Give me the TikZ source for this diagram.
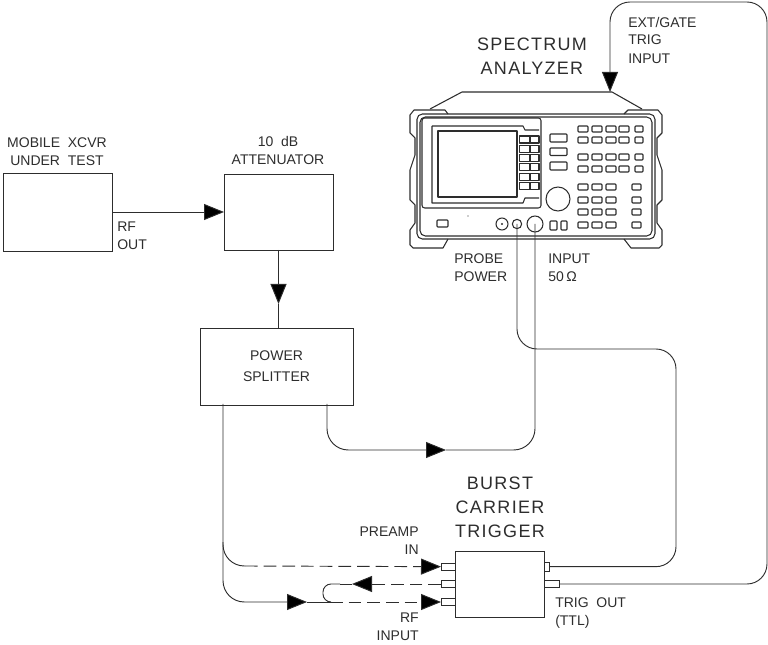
\documentclass[tikz,border=0pt]{standalone}
\usepackage{fontspec}
\setmainfont{Liberation Sans}
\newfontfamily\widefont[LetterSpace=7]{Liberation Sans}
\usetikzlibrary{arrows.meta, positioning}
\definecolor{inkgray}{RGB}{45, 45, 45}

\begin{document}
\begin{tikzpicture}[
  x=0.75pt, y=-0.75pt,
  text=inkgray,
  wire/.style = { draw=inkgray, line width=0.7pt },
  dsh/.style = { wire, dash pattern=on 9.5pt off 4.5pt },
  arr/.style = { wire, -{Triangle[length=15pt, width=12pt, fill=black]} },
  dasharr/.style = { dsh, -{Triangle[length=15pt, width=12pt, fill=black]} },
  bx/.style = {
    draw=inkgray, line width=0.7pt, inner sep=0pt, outer sep=0pt,
    font=\fontsize{10.5}{15.5}\selectfont, align=center
  },
  port/.style = {
    draw=inkgray, fill=white, line width=0.7pt, inner sep=0pt, outer sep=0pt,
    minimum height=5pt
  },
  lbl/.style = { font=\fontsize{10.5}{13.5}\selectfont, align=center, inner sep=0pt },
  lblw/.style = { lbl, align=left },
  big/.style = { font=\widefont\fontsize{13.5}{18}\selectfont, align=center, inner sep=0pt },
  panel/.style = { draw=inkgray, line width=0.8pt, line join=round },
  pkey/.style = { draw=inkgray, line width=0.8pt, rounded corners=0.6pt }
]
\useasboundingbox (0,0) rectangle (768,645);

% boxes
\node[bx, minimum width=81.75pt, minimum height=58.5pt] (MS) at (57.5,212) {};
\node[bx, minimum width=81.75pt, minimum height=57pt, right=84pt of MS] (AT) {};
\node[bx, minimum width=114.75pt, minimum height=57.75pt, below=58.5pt of AT, xshift=-1.5pt] (PS) {POWER\\SPLITTER};
\node[bx, minimum width=66.75pt, minimum height=49.5pt, below right=109.5pt and 76.5pt of PS] (TB) {};

% ports on the trigger box
\node[port, minimum width=10.5pt, anchor=east] (PAin) at ([yshift=13pt]TB.west) {};
\node[port, minimum width=10.5pt, anchor=east] (FBin) at (TB.west) {};
\node[port, minimum width=10.5pt, anchor=east] (RFin) at ([yshift=-13.5pt]TB.west) {};
\node[port, minimum width=3.75pt, minimum height=6.5pt, anchor=west] (TCout) at ([yshift=13pt]TB.east) {};
\node[port, minimum width=11.25pt, anchor=west] (TGout) at (TB.east) {};

% analyzer cabinet
\draw[panel] (430,109) -- (462,92) -- (612,92) -- (642,109);
\draw[panel] (448,114) -- (445,110) -- (414,110) -- (410,115) -- (410,133) -- (415,138) -- (415,155)
  -- (410,170) -- (410,200) -- (415,205) -- (415,223) -- (410,230) -- (410,245) -- (413,248)
  -- (443,248) -- (448,239);
\draw[panel] (624,114) -- (628,110) -- (658,110) -- (662,115) -- (662,133) -- (657,138) -- (657,155)
  -- (662,170) -- (662,200) -- (657,205) -- (657,223) -- (662,230) -- (662,245) -- (659,248)
  -- (631,248) -- (624,239);
\draw[panel, rounded corners=4pt] (417,114) rectangle (655,239);
\draw[panel, rounded corners=4pt] (420,117) rectangle (652,236);

% display
\draw[panel, rounded corners=2pt] (422,118) -- (541,118) -- (541,208) -- (422,208) -- cycle;
\draw[panel] (432,126) -- (523,126) -- (525,130) -- (539,130) (539,198) -- (525,198) -- (523,203)
  -- (432,203) -- (432,126);
\draw[panel] (438,131) rectangle (517,197);
\foreach \r in {0,...,5} {
  \draw[panel] (519.5,{136+9.3*\r}) rectangle (530,{143+9.3*\r});
  \draw[panel] (530,{136+9.3*\r}) rectangle (539,{143+9.3*\r});
}

% keys
\foreach \y in {126,137,154,166} {
  \foreach \x in {578,592,606,619} \draw[pkey] (\x,\y) rectangle ++(10,6);
  \draw[pkey] (635,\y) rectangle ++(8,6);
}
\foreach \y in {184,197,209,222} {
  \foreach \x in {578,592,606} \draw[pkey] (\x,\y) rectangle ++(10,6);
  \draw[pkey] (632,\y) rectangle ++(9,6);
}
\foreach \y/\h in {134/8,148/7.5,162/8} \draw[pkey] (550,\y) rectangle ++(17,\h);
\draw[panel] (558,199) circle (9pt);
\draw[pkey] (437,220) rectangle (448,227);
\fill[inkgray] (468,216) circle (0.5pt);
\draw[panel] (502,224) circle (4.5pt);
\fill[inkgray] (502,224) circle (0.9pt);
\draw[pkey] (550,221) rectangle (557,230);
\draw[pkey] (561,221) rectangle (567,230);

% named points on the analyzer
\node[draw=inkgray, line width=0.8pt, circle, minimum size=7pt, inner sep=0pt] (PB) at (517,224) {};
\node[draw=inkgray, line width=0.8pt, circle, minimum size=12pt, inner sep=0pt] (SAin) at (535,224) {};
\coordinate (SAtrig) at (610,92);

% free points along the wires
\coordinate (PSa) at (223,404);
\coordinate (PSb) at (327,404);
\coordinate (tipAT) at ([yshift=-40.5pt]AT.south);
\coordinate (tipSA) at (446,450);
\coordinate (tipRF) at (307,602);
\coordinate (RFj) at (330,602);
\coordinate (PAa) at (223,542);
\coordinate (PAb) at (245,566);
\coordinate (tipFB) at (352,584);
\coordinate (FBa) at (340,584);
\coordinate (FBb) at (323,584);
\coordinate (FBc) at (323,602);

% connectors
\draw[arr] (MS.east) -- (MS.east -| AT.west);
\draw[arr] (AT.south) -- (tipAT);
\draw[wire] (tipAT) -- (tipAT |- PS.north);
\draw[arr, rounded corners=16pt] (PSb) |- (tipSA);
\draw[wire, rounded corners=16pt] (tipSA) -| (SAin.center);
\draw[wire, rounded corners=15pt] (TCout.east) -| (676,349) -| (PB.center);
\draw[arr, rounded corners=15pt] (TGout.east) -| (767,2) -| (SAtrig);
\draw[arr, rounded corners=16pt] (PSa) |- (tipRF);
\draw[wire] (tipRF) -- (RFj);
\draw[dasharr] (RFj) -- (RFin.west);
\draw[wire, rounded corners=16pt] (PAa) |- (PAb);
\draw[dasharr] (PAb) -- (PAin.west);
\draw[dasharr] (FBin.west) -- (tipFB);
\draw[dsh] (tipFB) -- (FBa);
\draw[wire, rounded corners=6pt] (FBa) -- (FBb) -- (FBc) -- (RFj);

% labels
\node[lbl] (tMS) at (57,151.5) {MOBILE\ \ XCVR\\UNDER\ \ TEST};
\node[lbl] (tAT) at (278,150.5) {10\ \ dB\\ATTENUATOR};
\node[lblw, anchor=west] (tRF) at (117,235.5) {RF\\OUT};
\node[big] (tSA) at (532,56.5) {SPECTRUM\\ANALYZER};
\node[lblw, anchor=west] (tEX) at (628,40) {EXT/GATE\\TRIG\\INPUT};
\node[lblw, anchor=west] (tPB) at (454,267.5) {PROBE\\POWER};
\node[lblw, anchor=west] (tIN) at (548,267.5) {INPUT\\50$\,$Ω};
\node[big] (tTB) at (500,507.5) {BURST\\CARRIER\\TRIGGER};
\node[lbl, align=right, anchor=east] (tPA) at (419,541) {PREAMP\\IN};
\node[lbl, align=right, anchor=east] (tRI) at (419,627) {RF\\INPUT};
\node[lblw, anchor=west] (tTG) at (555,613) {TRIG\ \ OUT\\(TTL)};

\end{tikzpicture}
\end{document}
